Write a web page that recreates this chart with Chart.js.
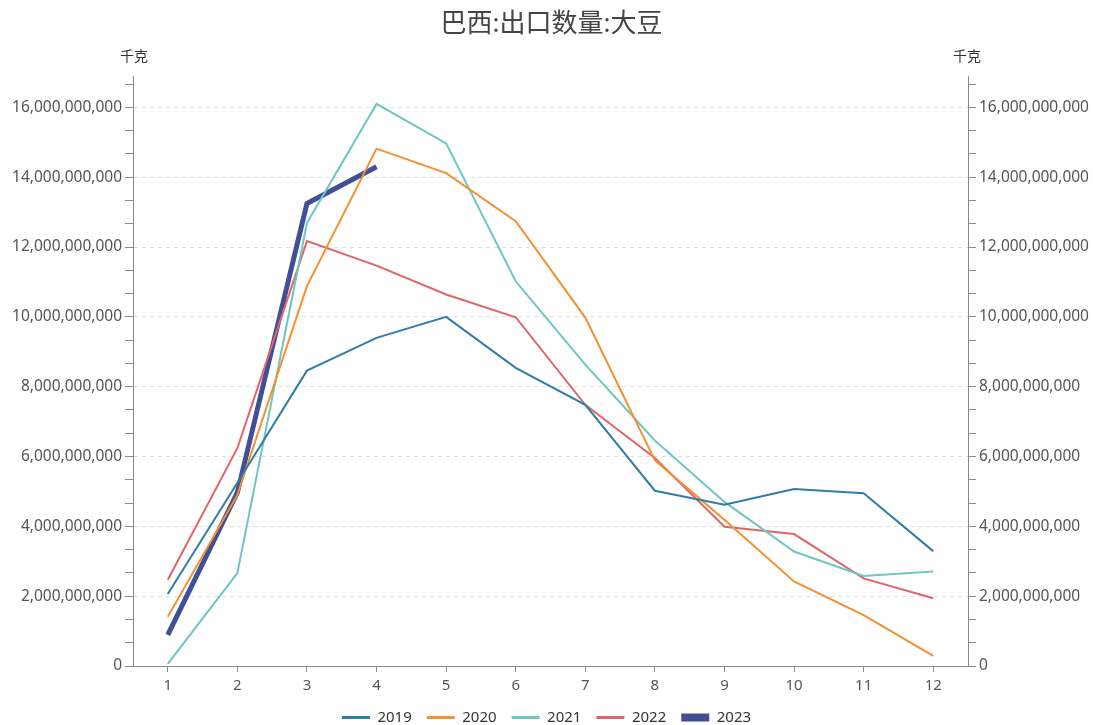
<!DOCTYPE html>
<html>
<head>
<meta charset="utf-8">
<script src="https://cdn.jsdelivr.net/npm/chart.js@4/dist/chart.umd.min.js"></script>
<style>
  html, body { margin: 0; padding: 0; background: #fff; overflow: hidden; }
  #wrap { width: 1093px; height: 725px; position: relative; }
</style>
</head>
<body>
<div id="wrap"><canvas id="c" width="1093" height="725"></canvas></div>
<script>
// Months
const months = ['1', '2', '3', '4', '5', '6', '7', '8', '9', '10', '11', '12'];

// Soybean export volume by month, kg
const s2019 = [2.06e9, 5.25e9, 8.46e9, 9.40e9, 10.0e9, 8.54e9, 7.48e9, 5.02e9, 4.62e9, 5.07e9, 4.95e9, 3.29e9];
const s2020 = [1.41e9, 4.90e9, 10.88e9, 14.82e9, 14.12e9, 12.74e9, 9.98e9, 5.89e9, 4.19e9, 2.42e9, 1.46e9, 0.29e9];
const s2021 = [0.06e9, 2.66e9, 12.69e9, 16.10e9, 14.97e9, 11.02e9, 8.63e9, 6.46e9, 4.70e9, 3.28e9, 2.58e9, 2.71e9];
const s2022 = [2.47e9, 6.24e9, 12.17e9, 11.47e9, 10.64e9, 9.99e9, 7.48e9, 5.96e9, 3.99e9, 3.78e9, 2.51e9, 1.94e9];
const s2023 = [0.89e9, 4.97e9, 13.25e9, 14.30e9];

// Axis range and tick step
const yMin = 0;
const yMax = 16.9e9;
const majorStep = 2e9;
const minorPerMajor = 3;

const FONT = "'Noto Sans', 'Noto Sans CJK SC', sans-serif";
const AXIS_COLOR = '#8a8a8a';
const TEXT_COLOR = '#555';

function buildTicks(scale) {
  const ticks = [];
  for (let k = 0; ; k++) {
    const v = k * majorStep / minorPerMajor;
    if (v > yMax) break;
    ticks.push({ value: k % minorPerMajor === 0 ? (k / minorPerMajor) * majorStep : v, major: k % minorPerMajor === 0 });
  }
  scale.ticks = ticks;
}

function tickLabel(value, index) {
  return index % minorPerMajor === 0 ? Math.round(value).toLocaleString('en-US') : '';
}

function yAxis(position, width) {
  return {
    type: 'linear',
    position: position,
    display: true,
    min: yMin,
    max: yMax,
    afterBuildTicks: buildTicks,
    afterFit: (s) => { s.width = width; },
    border: { display: true, color: AXIS_COLOR, width: 1, dash: [4, 4] },
    grid: {
      drawOnChartArea: position === 'left',
      drawTicks: true,
      tickLength: 8,
      tickWidth: 1,
      tickColor: AXIS_COLOR,
      lineWidth: 1,
      color: (ctx) => (ctx.index % minorPerMajor === 0 && ctx.index !== 0) ? '#e0e0e0' : 'rgba(0,0,0,0)'
    },
    ticks: {
      autoSkip: false,
      padding: 3,
      color: TEXT_COLOR,
      font: { family: FONT, size: 15.5 },
      callback: tickLabel
    }
  };
}

// Title and unit captions
const captions = {
  id: 'captions',
  afterDraw(chart) {
    const ctx = chart.ctx;
    const area = chart.chartArea;
    ctx.save();
    ctx.fillStyle = '#444';
    ctx.textAlign = 'center';
    ctx.textBaseline = 'middle';
    ctx.font = "26px " + FONT;
    ctx.fillText('巴西:出口数量:大豆', (area.left + area.right) / 2 + 1, 25);
    ctx.fillStyle = '#333';
    ctx.font = "14px " + FONT;
    ctx.fillText('千克', area.left + 1, 57);
    ctx.fillText('千克', area.right - 1, 57);
    ctx.restore();
  }
};

// Legend row starts a little higher, keeping the box bottom at the canvas edge
const legendNudge = {
  id: 'legendNudge',
  afterLayout(chart) {
    if (chart.legend) {
      chart.legend.top -= 5;
      chart.legend.height += 5;
    }
  }
};

function line(label, data, color, width) {
  return {
    label: label,
    data: data,
    borderColor: color,
    backgroundColor: color,
    borderWidth: width,
    pointRadius: 0,
    pointHoverRadius: 0,
    tension: 0,
    fill: false,
    yAxisID: 'y'
  };
}

new Chart(document.getElementById('c'), {
  type: 'line',
  data: {
    labels: months,
    datasets: [
      line('2019', s2019, '#2f7da8', 2),
      line('2020', s2020, '#f39130', 2),
      line('2021', s2021, '#6ec6c1', 2),
      line('2022', s2022, '#e0656b', 2),
      line('2023', s2023, '#414f94', 5)
    ]
  },
  options: {
    responsive: false,
    animation: false,
    layout: { padding: { top: 76, left: 0, right: 0, bottom: 0 } },
    plugins: {
      title: { display: false },
      tooltip: { enabled: false },
      legend: {
        display: true,
        position: 'bottom',
        maxHeight: 25,
        labels: {
          usePointStyle: true,
          pointStyle: 'line',
          pointStyleWidth: 28,
          padding: 15,
          color: '#333',
          font: { family: FONT, size: 15 },
          generateLabels(chart) {
            const items = Chart.defaults.plugins.legend.labels.generateLabels(chart);
            items.forEach((it) => {
              it.pointStyle = 'line';
              it.lineWidth = it.text === '2023' ? 8 : 3;
            });
            return items;
          }
        }
      }
    },
    scales: {
      x: {
        type: 'category',
        offset: true,
        afterFit: (s) => { s.height = 34; },
        border: { display: true, color: AXIS_COLOR, width: 1 },
        grid: {
          offset: false,
          drawOnChartArea: false,
          drawTicks: true,
          tickLength: 6,
          tickColor: AXIS_COLOR
        },
        ticks: {
          padding: 5,
          color: TEXT_COLOR,
          maxRotation: 0,
          font: { family: FONT, size: 15 }
        }
      },
      y: yAxis('left', 133),
      y2: yAxis('right', 125)
    }
  },
  plugins: [captions, legendNudge]
});
</script>
</body>
</html>
